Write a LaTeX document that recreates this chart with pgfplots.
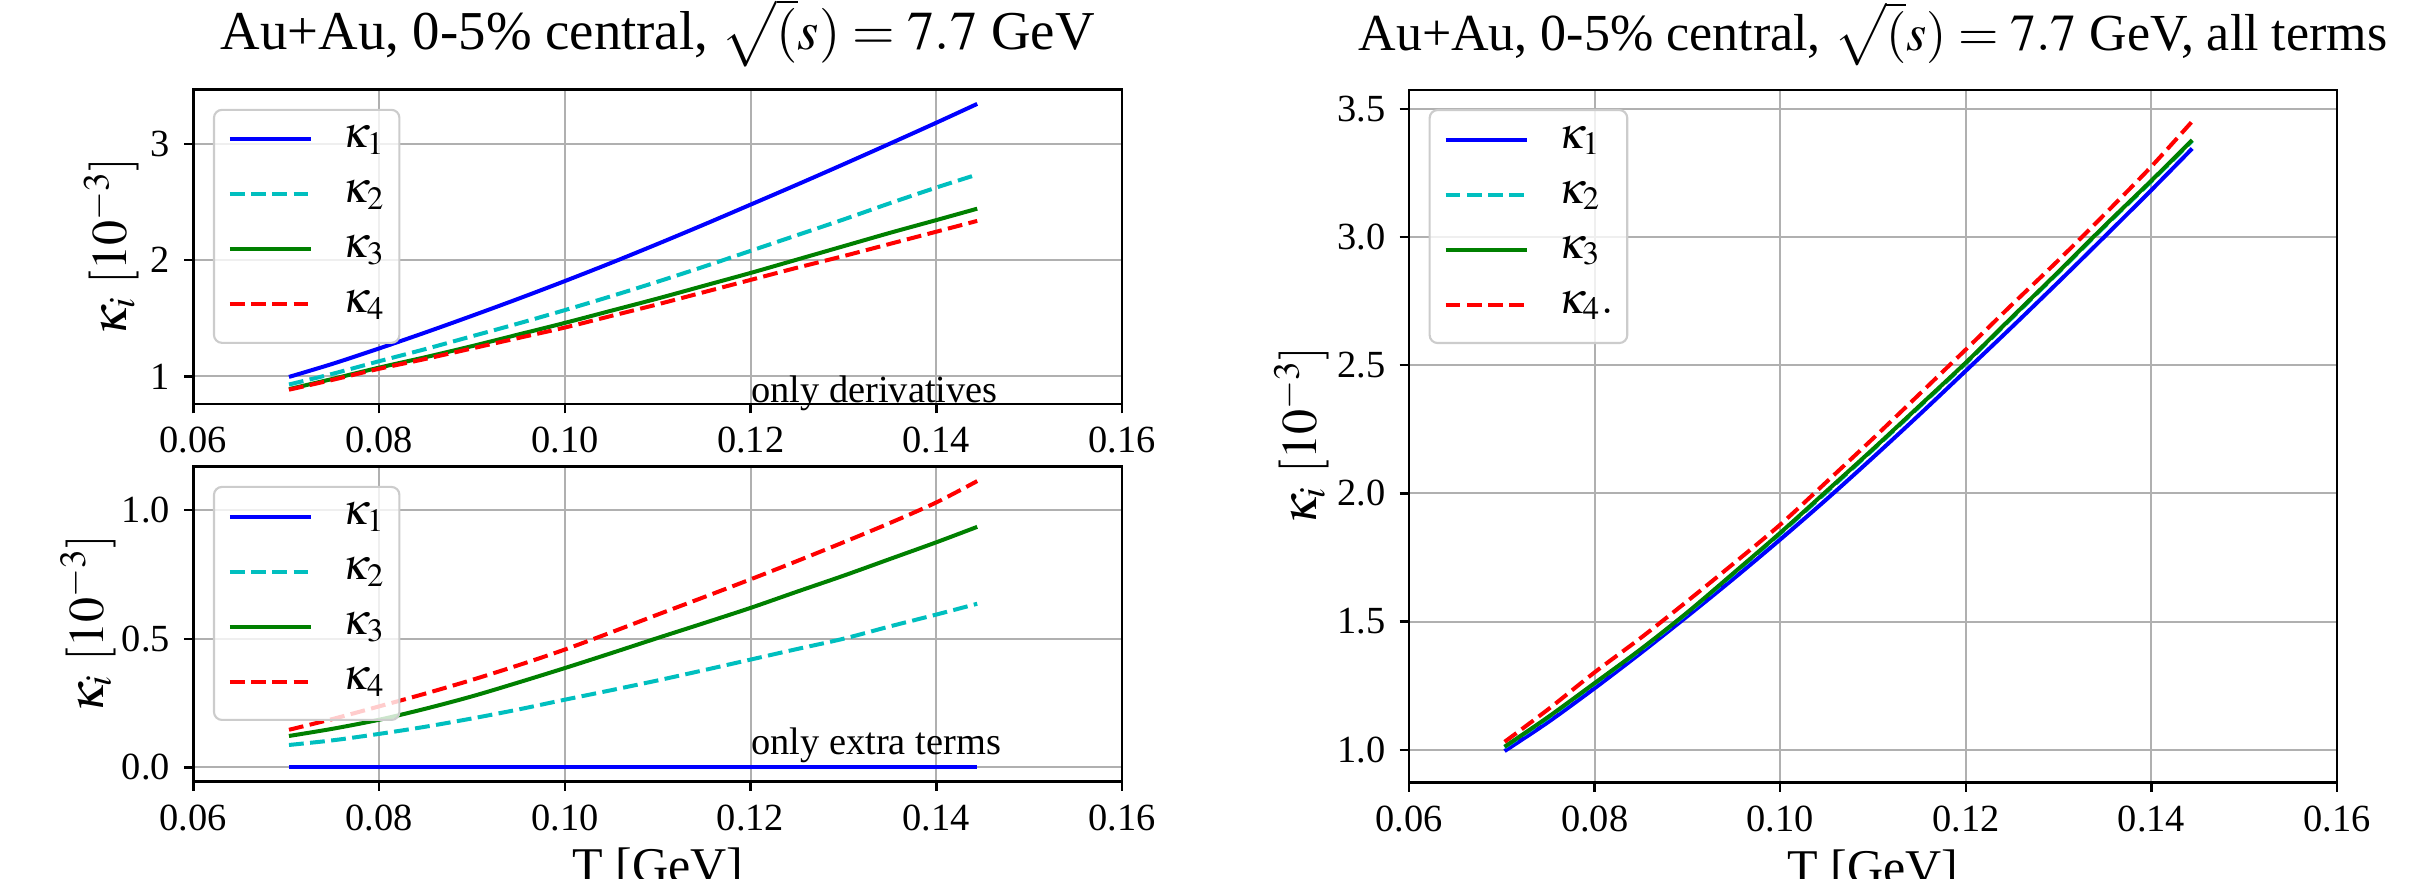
\documentclass[border=0pt]{standalone}
\usepackage{mathptmx}
\usepackage{fontspec}
\setmainfont{Liberation Serif}
\usepackage{pgfplots}
\usepackage{pgfplotstable}
\pgfplotsset{compat=1.18}
\definecolor{mplb}{rgb}{0,0,1}
\definecolor{mplc}{rgb}{0,0.75,0.75}
\definecolor{mplg}{rgb}{0,0.5,0}
\definecolor{mplr}{rgb}{1,0,0}
\definecolor{gridgray}{HTML}{B0B0B0}
\definecolor{legendgray}{HTML}{CCCCCC}

% only derivatives
\pgfplotstableread{
T      k1    k2    k3    k4
0.0703 0.995 0.930 0.890 0.885
0.075  1.108 1.022 0.978 0.970
0.080  1.240 1.130 1.075 1.065
0.085  1.378 1.235 1.165 1.150
0.090  1.521 1.345 1.260 1.240
0.095  1.668 1.455 1.360 1.330
0.100  1.820 1.570 1.460 1.420
0.105  1.977 1.690 1.565 1.520
0.110  2.140 1.815 1.670 1.620
0.115  2.307 1.945 1.780 1.725
0.120  2.478 2.080 1.890 1.830
0.125  2.650 2.215 2.005 1.935
0.130  2.825 2.350 2.120 2.035
0.135  3.003 2.490 2.235 2.140
0.140  3.183 2.625 2.345 2.245
0.1444 3.345 2.737 2.443 2.338
}\deriv

% only extra terms
\pgfplotstableread{
T      k1 k2    k3    k4
0.0703 0  0.087 0.122 0.146
0.075  0  0.105 0.150 0.188
0.080  0  0.130 0.185 0.237
0.085  0  0.158 0.228 0.287
0.090  0  0.190 0.276 0.340
0.095  0  0.225 0.330 0.397
0.100  0  0.263 0.386 0.458
0.105  0  0.300 0.444 0.525
0.110  0  0.338 0.503 0.594
0.115  0  0.378 0.561 0.662
0.120  0  0.419 0.620 0.731
0.125  0  0.460 0.683 0.802
0.130  0  0.500 0.745 0.875
0.135  0  0.548 0.810 0.950
0.140  0  0.594 0.875 1.030
0.1444 0  0.636 0.935 1.113
}\extra

% all terms
\pgfplotstableread{
T      k1    k2    k3    k4
0.0703 0.995 1.010 1.012 1.031
0.075  1.108 1.125 1.128 1.158
0.080  1.240 1.258 1.260 1.302
0.085  1.378 1.391 1.393 1.437
0.090  1.521 1.534 1.536 1.580
0.095  1.668 1.687 1.690 1.727
0.100  1.820 1.843 1.846 1.878
0.105  1.977 2.005 2.009 2.045
0.110  2.140 2.170 2.173 2.214
0.115  2.307 2.338 2.341 2.387
0.120  2.478 2.507 2.510 2.561
0.125  2.650 2.685 2.688 2.737
0.130  2.825 2.862 2.865 2.910
0.135  3.003 3.042 3.045 3.090
0.140  3.183 3.217 3.220 3.275
0.1444 3.345 3.375 3.378 3.451
}\allterms

\pgfplotsset{
  kbase/.style={
    scale only axis, anchor=south west,
    xmin=0.06, xmax=0.16,
    xtick={0.06,0.08,0.10,0.12,0.14,0.16},
    scaled ticks=false, tick pos=left,
    grid=major, grid style={line width=0.53pt, color=gridgray},
    axis line style={line width=0.6pt},
    tick align=outside, major tick length=2.33pt,
    every tick/.style={black, line width=0.6pt},
    tick label style={font=\fontsize{9.6}{11}\selectfont},
    /pgf/number format/assume math mode=true,
    xticklabel style={/pgf/number format/fixed, /pgf/number format/fixed zerofill, /pgf/number format/precision=2},
    label style={font=\fontsize{12.5}{14}\selectfont},
    title style={at={(axis description cs:0.5,1)}, anchor=base, yshift=3.9pt, font=\fontsize{13}{15}\selectfont},
    legend style={at={(axis description cs:0,1)}, anchor=north west, xshift=4.9pt, yshift=-4.8pt,
      draw=legendgray, line width=0.53pt, rounded corners=2pt, fill=white, fill opacity=0.8,
      draw opacity=1, text opacity=1, font=\fontsize{11}{13}\selectfont,
      inner xsep=3.5pt, inner ysep=4.5pt, row sep=5.75pt, column sep=7.5pt,
      cells={anchor=base west}, nodes={inner sep=0pt, text height=5pt, text depth=3pt}},
    legend image code/.code={\draw[#1] (0pt,2.1pt) -- (20.25pt,2.1pt);},
    clip=false,
  },
  kb/.style={color=mplb, line width=1pt, smooth},
  kc/.style={color=mplc, line width=1pt, smooth, dash pattern=on 3.7pt off 1.6pt},
  kg/.style={color=mplg, line width=1pt, smooth},
  kr/.style={color=mplr, line width=1pt, smooth, dash pattern=on 3.7pt off 1.6pt},
}

\begin{document}
\begin{tikzpicture}
\path[use as bounding box] (0pt,0pt) rectangle (606.25pt,219.75pt);

\begin{axis}[kbase, at={(48.33pt,118.75pt)}, width=232.2pt, height=78.6pt,
  ymin=0.762, ymax=3.468, ytick={1,2,3},
  ylabel={$\kappa_i\ [10^{-3}]$},
  ylabel style={at={(axis description cs:-0.0717,0.5)}, anchor=base},
  title style={font=\fontsize{13.7}{16}\selectfont},
  title={Au+Au, 0-5\% central, $\sqrt{(}s) = 7.7$ GeV}]
\addplot[kb] table[x=T,y=k1] {\deriv};
\addlegendentry{$\kappa_1$}
\addplot[kc] table[x=T,y=k2] {\deriv};
\addlegendentry{$\kappa_2$}
\addplot[kg] table[x=T,y=k3] {\deriv};
\addlegendentry{$\kappa_3$}
\addplot[kr] table[x=T,y=k4] {\deriv};
\addlegendentry{$\kappa_4$}
\node[anchor=base west, inner sep=0pt, font=\fontsize{9.6}{11}\selectfont] at (axis cs:0.12,0.775) {only derivatives};
\end{axis}

\begin{axis}[kbase, at={(48.33pt,24.33pt)}, width=232.2pt, height=78.75pt,
  ymin=-0.0557, ymax=1.169, ytick={0,0.5,1},
  yticklabel style={/pgf/number format/fixed, /pgf/number format/fixed zerofill, /pgf/number format/precision=1},
  ylabel={$\kappa_i\ [10^{-3}]$},
  ylabel style={at={(axis description cs:-0.097,0.5)}, anchor=base},
  xlabel={T [GeV]},
  xlabel style={at={(axis description cs:0.5,-0.207)}, anchor=north, inner sep=0pt}]
\addplot[kb] table[x=T,y=k1] {\extra};
\addlegendentry{$\kappa_1$}
\addplot[kc] table[x=T,y=k2] {\extra};
\addlegendentry{$\kappa_2$}
\addplot[kg] table[x=T,y=k3] {\extra};
\addlegendentry{$\kappa_3$}
\addplot[kr] table[x=T,y=k4] {\extra};
\addlegendentry{$\kappa_4$}
\node[anchor=base west, inner sep=0pt, font=\fontsize{9.6}{11}\selectfont] at (axis cs:0.12,0.05) {only extra terms};
\end{axis}

\begin{axis}[kbase, at={(352.25pt,24.1pt)}, width=232pt, height=173.2pt,
  ymin=0.872, ymax=3.574, ytick={1,1.5,2,2.5,3,3.5},
  yticklabel style={/pgf/number format/fixed, /pgf/number format/fixed zerofill, /pgf/number format/precision=1},
  ylabel={$\kappa_i\ [10^{-3}]$},
  ylabel style={at={(axis description cs:-0.0992,0.5)}, anchor=base},
  xlabel={T [GeV]},
  xlabel style={at={(axis description cs:0.5,-0.0953)}, anchor=north, inner sep=0pt},
  title={Au+Au, 0-5\% central, $\sqrt{(}s) = 7.7$ GeV, all terms}]
\addplot[kb] table[x=T,y=k1] {\allterms};
\addlegendentry{$\kappa_1$}
\addplot[kc] table[x=T,y=k2] {\allterms};
\addlegendentry{$\kappa_2$}
\addplot[kg] table[x=T,y=k3] {\allterms};
\addlegendentry{$\kappa_3$}
\addplot[kr] table[x=T,y=k4] {\allterms};
\addlegendentry{$\kappa_4.$}
\end{axis}
\end{tikzpicture}
\end{document}
